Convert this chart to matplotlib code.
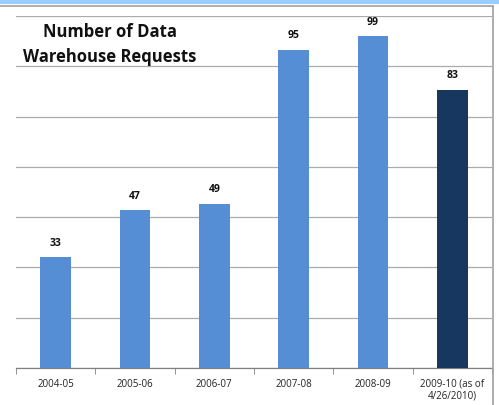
import matplotlib
matplotlib.use("Agg")
import matplotlib.pyplot as plt
from matplotlib.patches import Rectangle
from matplotlib.lines import Line2D

categories = ["2004-05", "2005-06", "2006-07", "2007-08", "2008-09", "2009-10 (as of\n4/26/2010)"]
requests = [33, 47, 49, 95, 99, 83]
bar_colors = ["#558ed5", "#558ed5", "#558ed5", "#558ed5", "#558ed5", "#17375e"]
title = "Number of Data\nWarehouse Requests"

W, H = 499, 406
fig = plt.figure(figsize=(W / 100, H / 100), dpi=100)
fig.patch.set_facecolor("white")

# light blue band along the top and frame lines
fig.patches.append(Rectangle((0, 1 - 5 / H), 1, 5 / H, transform=fig.transFigure,
                             facecolor="#99ccff", edgecolor="none"))
fig.lines.append(Line2D([0, 493 / W], [1 - 6.5 / H] * 2, transform=fig.transFigure,
                        color="#a0a0a0", lw=1.2))
fig.lines.append(Line2D([493 / W] * 2, [0, 1 - 6.5 / H], transform=fig.transFigure,
                        color="#a0a0a0", lw=1.2))

ax = fig.add_axes([16 / W, 37 / H, (492 - 16) / W, (369 - 17) / H])
x = range(len(categories))
bars = ax.bar(x, requests, width=0.39, color=bar_colors, zorder=3)

ax.set_xlim(-0.5, len(categories) - 0.5)
ax.set_ylim(0, 105)
ax.set_yticks(range(0, 106, 15))
ax.yaxis.grid(True, color="#ababab", lw=0.9, zorder=0)
ax.tick_params(axis="y", length=0, labelleft=False)

ax.set_xticks(list(x))
ax.set_xticklabels(categories, fontsize=7, family="Open Sans", color="#222222",
                   va="top", linespacing=1.1)
ax.set_xticks([i - 0.5 for i in range(len(categories) + 1)], minor=True)
ax.tick_params(axis="x", which="major", length=0, pad=7)
ax.tick_params(axis="x", which="minor", length=4, color="#808080", direction="out")

for s in ["top", "right", "left"]:
    ax.spines[s].set_visible(False)
ax.spines["bottom"].set_color("#808080")
ax.spines["bottom"].set_linewidth(0.9)

for rect, v in zip(bars, requests):
    ax.text(rect.get_x() + rect.get_width() / 2, v + 4.5, str(v),
            ha="center", va="center", fontsize=7.5, fontweight="bold",
            family="Open Sans", color="#111111")

ax.text(0.197, 0.922, title, transform=ax.transAxes, ha="center", va="center",
        fontsize=12, fontweight="bold", family="Open Sans", color="#111111",
        linespacing=1.5, multialignment="center")

fig.savefig("out.png", dpi=100, facecolor="white")
